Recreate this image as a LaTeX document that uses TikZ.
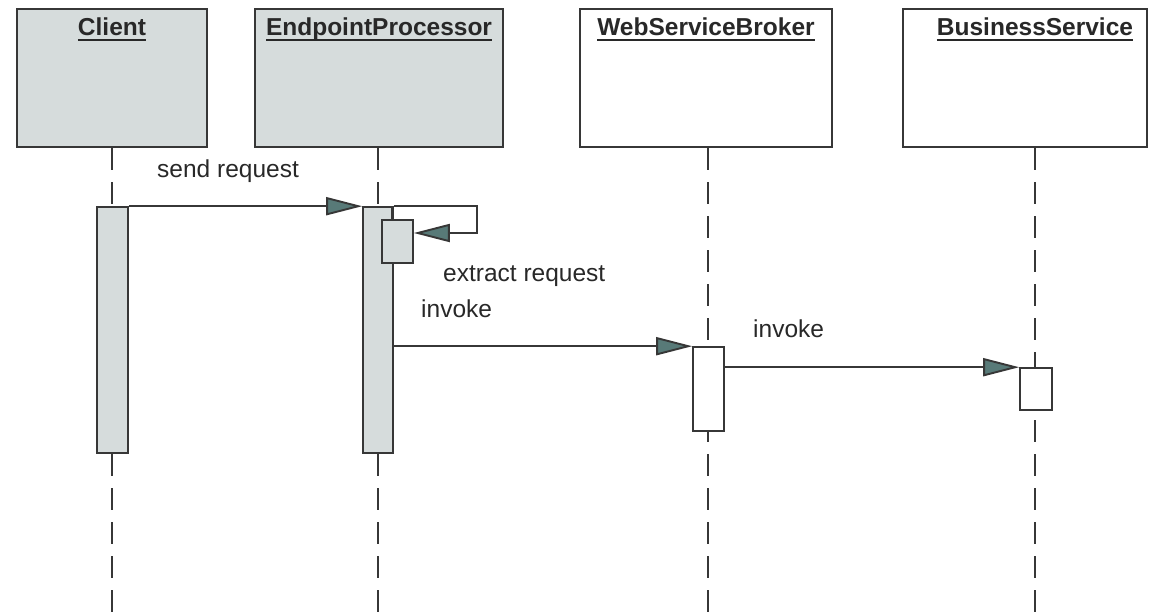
\documentclass[tikz,border=0pt]{standalone}
\usepackage{fontspec}
\setmainfont{Liberation Sans}
\usetikzlibrary{arrows.meta,calc}

\definecolor{actfill}{RGB}{214,220,220}
\definecolor{edge}{RGB}{55,55,55}
\definecolor{tipfill}{RGB}{88,122,120}
\definecolor{ink}{RGB}{40,40,40}

% bold object name with a heavy underline
\newcommand\objname[1]{\setbox0\hbox{\bfseries #1}\rlap{\rule[-5pt]{\wd0}{2.2pt}}\box0}

\begin{document}
\begin{tikzpicture}[x=1pt,y=-1pt,
  every node/.style={font=\fontsize{24.5}{28}\selectfont, text=ink},
  objbox/.style={draw=edge, line width=2.6pt, minimum height=138pt, inner sep=0pt},
  actbox/.style={draw=edge, line width=1.6pt, minimum width=31pt, inner sep=0pt},
  lifeline/.style={draw=edge, line width=1.8pt, dash pattern=on 22pt off 12pt},
  msg/.style={draw=edge, line width=1.9pt,
    -{Triangle[length=36pt,width=18pt,fill=tipfill]}},
  plain/.style={draw=edge, line width=1.9pt},
  lbl/.style={anchor=base west, inner sep=0pt}]

\useasboundingbox (0,0) rectangle (1150,613);

% object boxes
\node[objbox, fill=actfill, minimum width=190pt] (client) at (112,78) {};
\node[objbox, fill=actfill, minimum width=248pt] (ep)     at (379,78) {};
\node[objbox, fill=white,   minimum width=252pt] (wsb)    at (706,78) {};
\node[objbox, fill=white,   minimum width=244pt] (bs)     at (1025,78) {};

\node[anchor=base, inner sep=0pt] (client-t) at ($(client.north)+(0,28)$) {\objname{Client}};
\node[anchor=base, inner sep=0pt] (ep-t)     at ($(ep.north)+(0,28)$)     {\objname{EndpointProcessor}};
\node[anchor=base, inner sep=0pt] (wsb-t)    at ($(wsb.north)+(0,28)$)    {\objname{WebServiceBroker}};
\node[anchor=base, inner sep=0pt] (bs-t)     at ($(bs.north)+(10,28)$)    {\objname{BusinessService}};

% lifelines
\coordinate (client-end) at (112,613);
\coordinate (ep-end)     at (378,613);
\coordinate (wsb-end)    at (708,613);
\coordinate (bs-end)     at (1035,613);
\draw[lifeline] (client-end |- client.south) -- (client-end);
\draw[lifeline] (ep-end |- ep.south) -- (ep-end);
\draw[lifeline] (wsb-end |- wsb.south) -- (wsb-end);
\draw[lifeline] (bs-end |- bs.south) -- (bs-end);

% activations
\node[actbox, fill=actfill, minimum height=246pt] (clientact) at (112.5,330) {};
\node[actbox, fill=actfill, minimum width=30pt, minimum height=246pt] (epact) at (378,330) {};
\node[actbox, fill=actfill, minimum height=43pt] (epself) at (397.5,241.5) {};
\node[actbox, fill=white, minimum height=84pt] (wsbact) at (708.5,389) {};
\node[actbox, fill=white, minimum width=32pt, minimum height=42pt] (bsact) at (1036,389) {};

% messages
\draw[msg] (clientact.north east) -- (epact.north west);

\coordinate (loop) at (477,233);
\draw[msg] (epact.north east) -| (loop) -- (epself.east |- loop);
\draw[plain] ([xshift=-5.5pt]epself.north) -- ([xshift=-5.5pt]epself.north |- epact.north);

\draw[msg] (epact.east |- wsbact.north) -- (wsbact.north west);
\draw[msg] (wsbact.east |- bsact.north) -- (bsact.north west);

% message labels
\node[lbl] (l-send)    at (157,177) {send request};
\node[lbl] (l-extract) at (443,281) {extract request};
\node[lbl] (l-invoke1) at (421,317) {invoke};
\node[lbl] (l-invoke2) at (753,337) {invoke};

\end{tikzpicture}
\end{document}
